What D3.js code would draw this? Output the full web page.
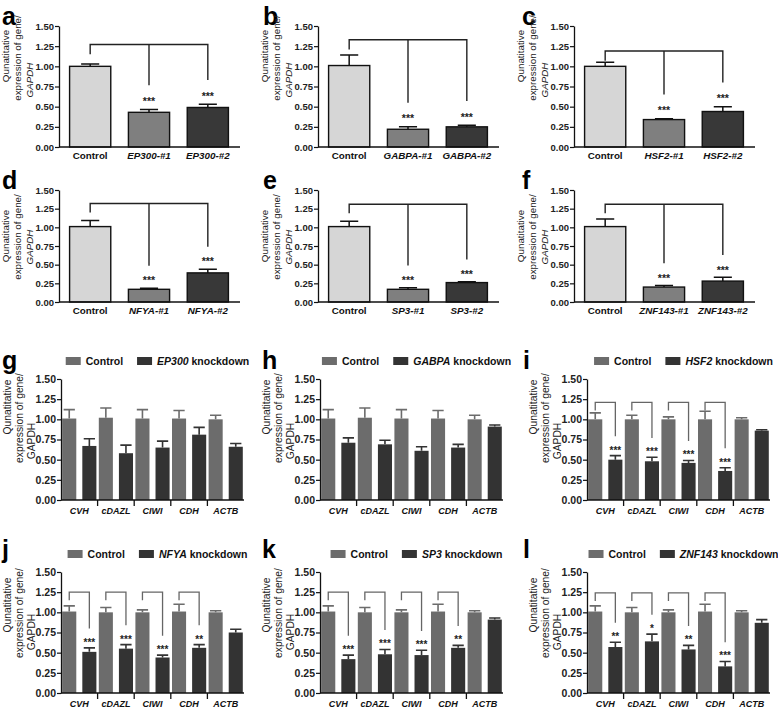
<!DOCTYPE html>
<html><head><meta charset="utf-8">
<script src="https://cdn.jsdelivr.net/npm/d3@7"></script>
<style>body{margin:0;background:#fff} svg{display:block;font-family:Arial,"Liberation Sans",sans-serif}</style>
</head><body><svg id="c" width="778" height="710"></svg>
<script>
// ---------------- DATA ----------------
const panelLetters = ["a","b","c","d","e","f","g","h","i","j","k","l"];
const tfGenes = ["EP300","GABPA","HSF2","NFYA","SP3","ZNF143"];
const shSuffixes = ["-#1","-#2"];
const yTicks = [0,0.25,0.5,0.75,1.0,1.25,1.5];

// panels a-f : Control, shRNA #1, shRNA #2
const shMeans  = [[1.00,0.43,0.49],[1.01,0.22,0.25],[1.00,0.34,0.44],[1.01,0.17,0.39],[1.01,0.17,0.26],[1.01,0.20,0.28]];
const shErrors = [[0.03,0.035,0.04],[0.13,0.03,0.02],[0.05,0.01,0.06],[0.08,0.015,0.05],[0.07,0.02,0.01],[0.10,0.02,0.05]];
const shSig = ["***","***"];
const shBracketTop = [1.27,1.33,1.19,1.32,1.31,1.31];

// panels g-l : marker genes, Control vs knockdown
const markerGenes = ["CVH","cDAZL","CIWI","CDH","ACTB"];
const ctrlMeans = [
  [1.01,1.02,1.01,1.01,1.00],
  [1.01,1.02,1.01,1.01,1.00],
  [1.00,1.00,1.00,1.00,1.00],
  [1.01,1.00,1.00,1.01,1.00],
  [1.01,1.00,1.00,1.01,1.00],
  [1.01,1.00,1.00,1.01,1.00]];
const ctrlErrors = [
  [0.11,0.12,0.11,0.10,0.05],
  [0.11,0.12,0.11,0.10,0.05],
  [0.08,0.05,0.03,0.10,0.02],
  [0.07,0.06,0.03,0.09,0.02],
  [0.07,0.06,0.03,0.09,0.02],
  [0.07,0.06,0.03,0.09,0.02]];
const kdMeans = [
  [0.67,0.58,0.65,0.81,0.66],
  [0.71,0.69,0.61,0.65,0.91],
  [0.50,0.48,0.46,0.36,0.86],
  [0.51,0.55,0.44,0.56,0.75],
  [0.42,0.48,0.47,0.56,0.91],
  [0.57,0.64,0.54,0.33,0.87]];
const kdErrors = [
  [0.09,0.10,0.08,0.09,0.04],
  [0.06,0.05,0.05,0.04,0.02],
  [0.05,0.05,0.03,0.04,0.01],
  [0.05,0.05,0.03,0.04,0.04],
  [0.05,0.06,0.06,0.03,0.02],
  [0.06,0.09,0.05,0.06,0.04]];
const kdSig = [
  ["","","","",""],
  ["","","","",""],
  ["***","***","***","***",""],
  ["***","***","***","**",""],
  ["***","***","***","**",""],
  ["**","*","**","***",""]];
const kdBracketTop = [0,0,1.21,1.25,1.25,1.24];

// ---------------- DRAW ----------------
const svg = d3.select("#c");
const fmt = d3.format(".2f");

// layout (positions only)
const topRows = [{t:26,b:147,letterY:25,lab:[30,32,54]},{t:190,b:302,letterY:189,lab:[46,47,57]}];
const topCols = [{x:59,lx:2},{x:318,lx:263},{x:574,lx:522}];
const topW = 180;
const botRows = [{t:379,b:500,letterY:369,legY:361,lab:[28,39,62]},{t:572,b:693,letterY:558,legY:554,lab:[33,41,60]}];
const botCols = [{x:61,lx:2},{x:320,lx:262},{x:587,lx:523}];
const botW = 183;
const shFill = ["#d6d6d6","#7f7f7f","#383838"];
const kdFill = ["#6c6c6c","#333333"];

function yLabel(g, ax, centers, offX, italicGapdh, fs){
  const lines = ["Qunatitative","expression of gene/","GAPDH"];
  lines.forEach((t,i)=>{
    g.append("text")
      .attr("transform",`translate(${ax+offX[i]},${centers[i]}) rotate(-90)`)
      .attr("text-anchor","middle")
      .attr("font-size",fs)
      .attr("fill","#222")
      .attr("font-style", (i===2 && italicGapdh) ? "italic" : "normal")
      .text(t);
  });
}

function styleYAxis(ga, fs){
  ga.select(".domain").attr("stroke","#111").attr("stroke-width",1.3);
  ga.selectAll(".tick line").attr("stroke","#111").attr("stroke-width",1.2);
  ga.selectAll(".tick text").attr("font-size",fs).attr("font-weight","bold").attr("fill","#222")
    .attr("font-family","Arial,'Liberation Sans',sans-serif");
}

// ---- panels a-f
tfGenes.forEach((gene,i)=>{
  const R = topRows[Math.floor(i/3)], C = topCols[i%3];
  const x0 = C.x, x1 = C.x + topW;
  const cats = ["Control", gene+shSuffixes[0], gene+shSuffixes[1]];
  const x = d3.scaleBand().domain(cats).range([x0,x1]).paddingInner(0.3).paddingOuter(0.18);
  const y = d3.scaleLinear().domain([0,1.5]).range([R.b,R.t]);
  const g = svg.append("g");

  g.append("text").attr("x",C.lx).attr("y",R.letterY).attr("font-size",25).attr("font-weight","bold").text(panelLetters[i]);

  const data = cats.map((c,j)=>({c, m:shMeans[i][j], e:shErrors[i][j], j}));
  // error bars
  g.selectAll(".eb").data(data).enter().append("path")
    .attr("d",d=>{const cx=x(d.c)+x.bandwidth()/2, cw=x.bandwidth()*0.22;
      return `M${cx},${y(d.m)}V${y(d.m+d.e)}M${cx-cw},${y(d.m+d.e)}H${cx+cw}`;})
    .attr("stroke","#111").attr("stroke-width",1.5).attr("fill","none");
  g.selectAll(".bar").data(data).enter().append("rect")
    .attr("x",d=>x(d.c)).attr("width",x.bandwidth())
    .attr("y",d=>y(d.m)).attr("height",d=>R.b-y(d.m))
    .attr("fill",d=>shFill[d.j]).attr("stroke","#111").attr("stroke-width",1.4);

  // axes
  const ga = g.append("g").attr("transform",`translate(${x0},0)`)
    .call(d3.axisLeft(y).tickValues(yTicks).tickFormat(fmt).tickSize(4).tickSizeOuter(0).tickPadding(1));
  styleYAxis(ga, 9.5);
  const gx = g.append("g").attr("transform",`translate(0,${R.b})`)
    .call(d3.axisBottom(x).tickSize(0).tickPadding(5));
  gx.select(".domain").attr("stroke","#111").attr("stroke-width",1.3).attr("d",`M${x0},0H${x1+1}`);
  gx.selectAll(".tick text").attr("font-size",9.8).attr("font-weight","bold").attr("fill","#111")
    .attr("font-family","Arial,'Liberation Sans',sans-serif")
    .attr("font-style",d=>d==="Control"?"normal":"italic");

  yLabel(g, x0, R.lab.map(v=>R.t+v), [-50,-38,-26], true, 9.8);

  // significance bracket
  const top = shBracketTop[i];
  const cc = cats.map(c=>x(c)+x.bandwidth()/2);
  const starV = [1,2].map(j=>shMeans[i][j]+shErrors[i][j]+0.13);
  const legV = starV.map(v=>v+0.17);
  g.append("path")
    .attr("d",`M${cc[0]},${y(top-0.12)}V${y(top)}H${cc[2]}V${y(legV[1])}M${cc[1]},${y(top)}V${y(legV[0])}`)
    .attr("fill","none").attr("stroke","#222").attr("stroke-width",1.4);
  [1,2].forEach((j,k)=>{
    g.append("text").attr("x",cc[j]).attr("y",y(starV[k])+6).attr("text-anchor","middle")
      .attr("font-size",10.5).attr("font-weight","bold").attr("fill","#222").text(shSig[k]);
  });
});

// ---- panels g-l
tfGenes.forEach((gene,i)=>{
  const R = botRows[Math.floor(i/3)], C = botCols[i%3];
  const x0 = C.x, x1 = C.x + botW;
  const x = d3.scaleBand().domain(markerGenes).range([x0,x1]);
  const xs = d3.scaleBand().domain(["ctrl","kd"]).range([0,x.bandwidth()]).paddingInner(0.3).paddingOuter(0.06);
  const y = d3.scaleLinear().domain([0,1.5]).range([R.b,R.t]);
  const g = svg.append("g");
  g.append("text").attr("x",C.lx).attr("y",R.letterY).attr("font-size",25).attr("font-weight","bold").text(panelLetters[i+6]);

  const data = [];
  markerGenes.forEach((m,j)=>{
    data.push({gene:m, s:"ctrl", m:ctrlMeans[i][j], e:ctrlErrors[i][j], col:kdFill[0]});
    data.push({gene:m, s:"kd", m:kdMeans[i][j], e:kdErrors[i][j], col:kdFill[1]});
  });
  const bx = d=>x(d.gene)+xs(d.s);
  g.selectAll(".eb").data(data).enter().append("path")
    .attr("d",d=>{const cx=bx(d)+xs.bandwidth()/2, cw=xs.bandwidth()*0.4;
      return `M${cx},${y(d.m)}V${y(d.m+d.e)}M${cx-cw},${y(d.m+d.e)}H${cx+cw}`;})
    .attr("stroke",d=>d.col).attr("stroke-width",1.6).attr("fill","none");
  g.selectAll(".bar").data(data).enter().append("rect")
    .attr("x",bx).attr("width",xs.bandwidth())
    .attr("y",d=>y(d.m)).attr("height",d=>R.b-y(d.m)).attr("fill",d=>d.col);

  const ga = g.append("g").attr("transform",`translate(${x0},0)`)
    .call(d3.axisLeft(y).tickValues(yTicks).tickFormat(fmt).tickSize(4).tickSizeOuter(0).tickPadding(1));
  styleYAxis(ga, 10.5);
  const gx = g.append("g").attr("transform",`translate(0,${R.b})`)
    .call(d3.axisBottom(x).tickSize(0).tickPadding(8));
  gx.select(".domain").attr("stroke","#111").attr("stroke-width",1.3).attr("d",`M${x0},0H${x1}`);
  gx.selectAll(".tick text").attr("font-size",9).attr("font-weight","bold").attr("font-style","italic").attr("fill","#111")
    .attr("font-family","Arial,'Liberation Sans',sans-serif");
  // group separators
  g.selectAll(".sep").data(markerGenes.slice(1)).enter().append("line")
    .attr("x1",d=>x(d)).attr("x2",d=>x(d)).attr("y1",R.b).attr("y2",R.b+6)
    .attr("stroke","#111").attr("stroke-width",1.3);

  yLabel(g, x0, R.lab.map(v=>R.t+v), [-50,-38,-26], false, 10.3);

  // legend
  const lg = g.append("g");
  const it1 = lg.append("g");
  it1.append("rect").attr("width",15).attr("height",8).attr("fill",kdFill[0]);
  const t1 = it1.append("text").attr("x",20).attr("y",8).attr("font-size",10.5).attr("font-weight","bold").attr("fill","#111").text("Control");
  const w1 = 20 + t1.node().getComputedTextLength();
  const it2 = lg.append("g").attr("transform",`translate(${w1+14},0)`);
  it2.append("rect").attr("width",15).attr("height",8).attr("fill",kdFill[1]);
  const t2 = it2.append("text").attr("x",20).attr("y",8).attr("font-size",10.5).attr("font-weight","bold").attr("fill","#111");
  t2.append("tspan").attr("font-style","italic").text(gene);
  t2.append("tspan").text(" knockdown");
  const wTot = w1 + 14 + 20 + t2.node().getComputedTextLength();
  lg.attr("transform",`translate(${(x0+x1)/2 + 5 - wTot/2},${R.legY-4})`);

  // significance brackets
  const top = kdBracketTop[i];
  markerGenes.forEach((m,j)=>{
    const s = kdSig[i][j];
    if(!s) return;
    const cx1 = x(m)+xs("ctrl")+xs.bandwidth()/2, cx2 = x(m)+xs("kd")+xs.bandwidth()/2;
    const starV = kdMeans[i][j]+kdErrors[i][j]+0.1;
    g.append("path").attr("d",`M${cx1},${y(top-0.1)}V${y(top)}H${cx2}V${y(starV+0.14)}`)
      .attr("fill","none").attr("stroke","#666").attr("stroke-width",1.3);
    g.append("text").attr("x",cx2).attr("y",y(starV)+6).attr("text-anchor","middle")
      .attr("font-size",10).attr("font-weight","bold").attr("fill","#222").text(s);
  });
});
</script></body></html>
